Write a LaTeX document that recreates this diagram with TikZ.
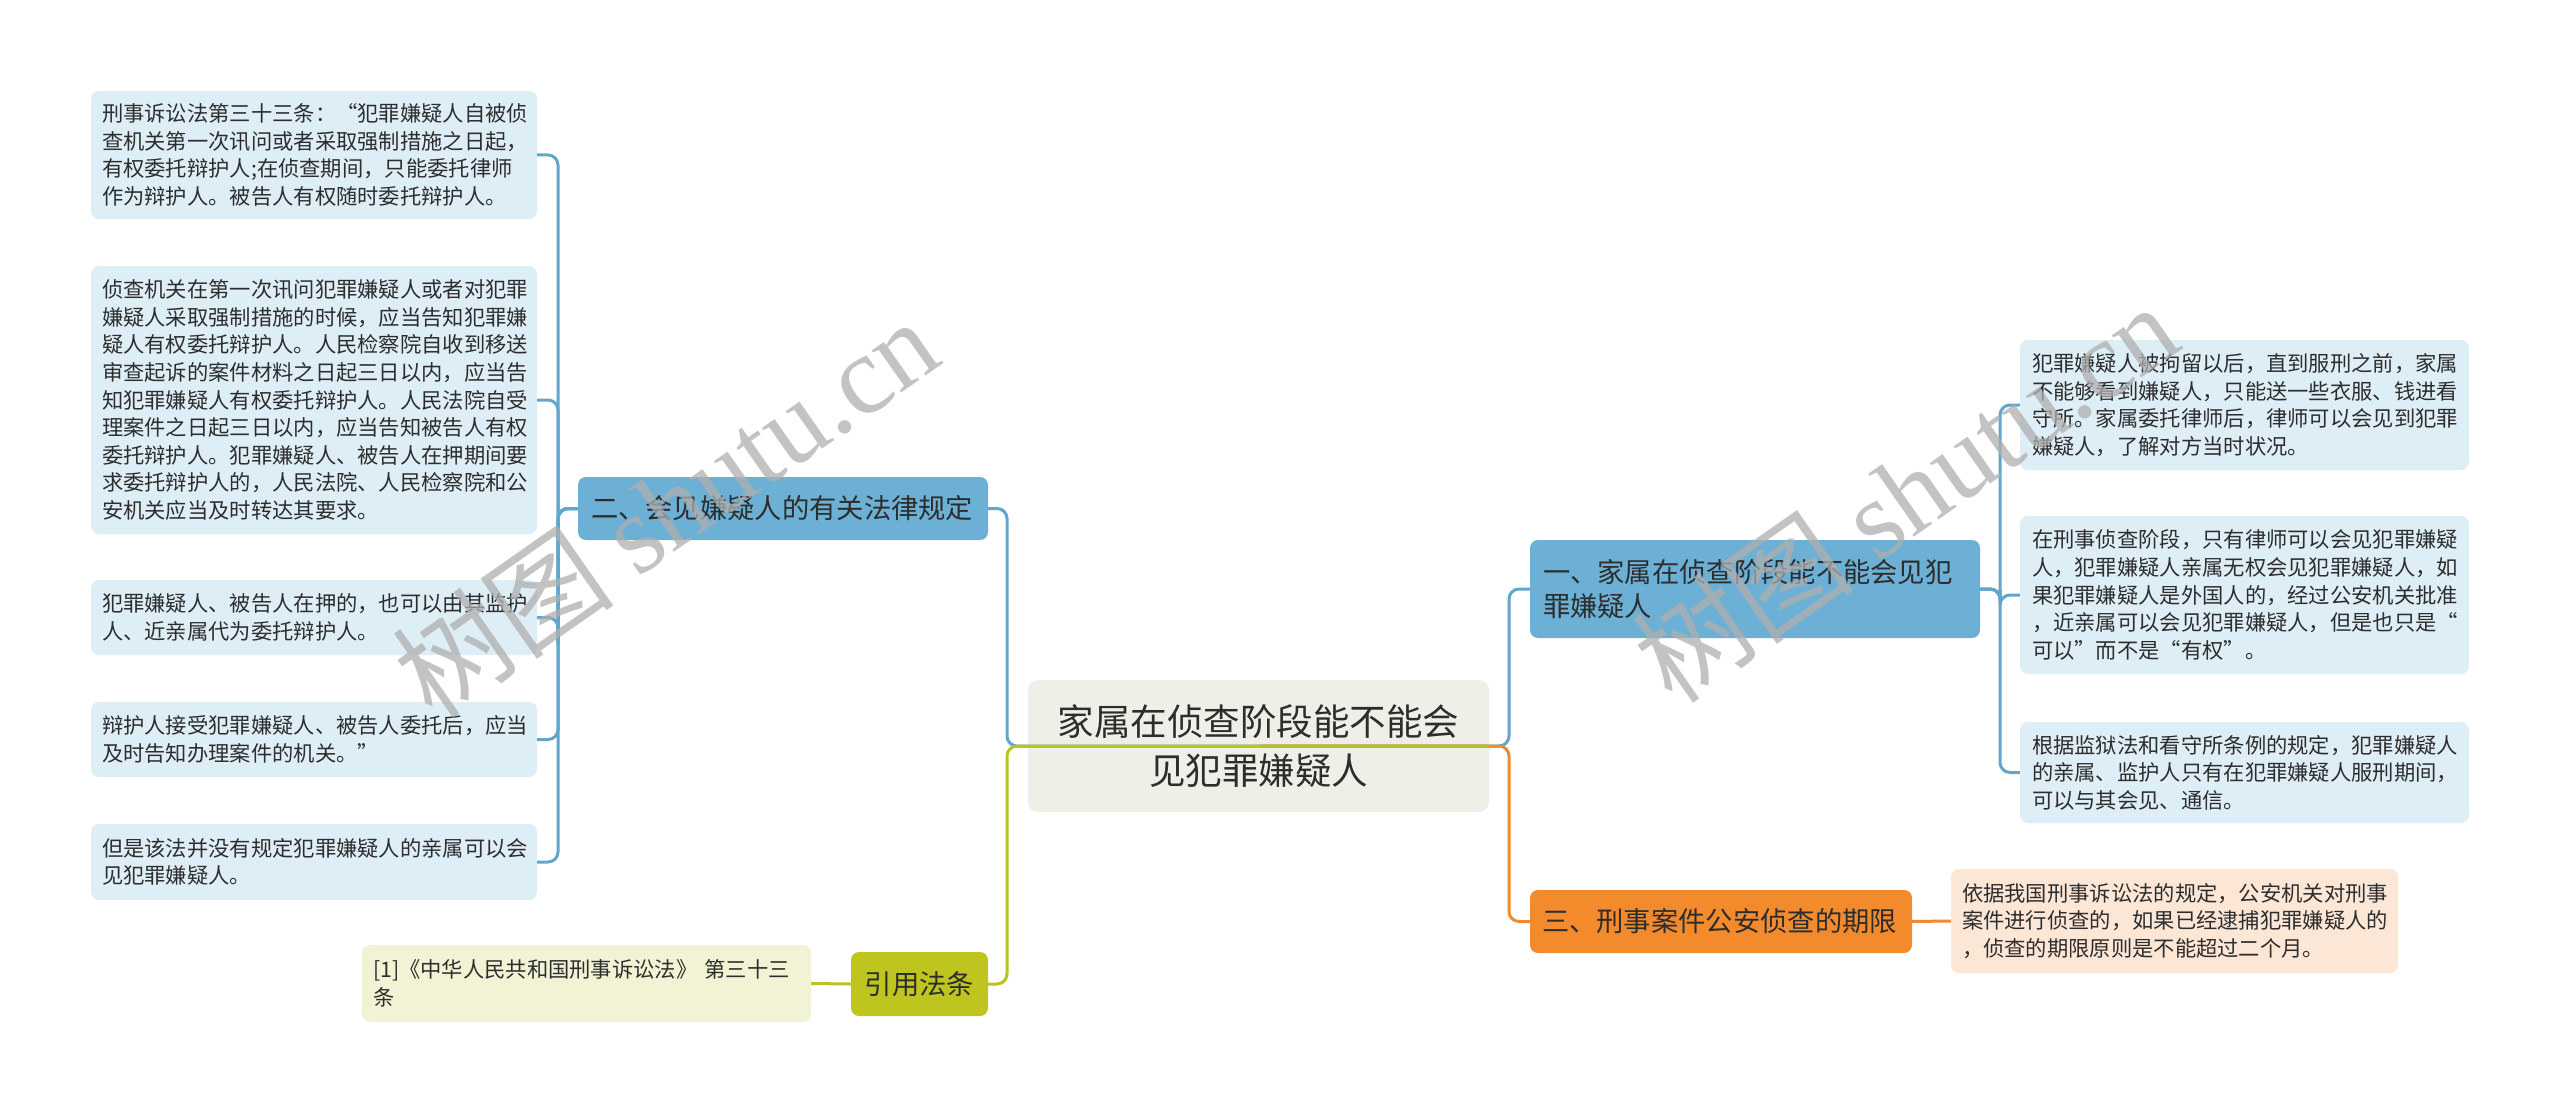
\documentclass[tikz,border=0pt]{standalone}
\usepackage{fontspec}
\setmainfont{Noto Sans CJK SC}
\newfontfamily\wmlatin{Liberation Serif}
\definecolor{txt}{RGB}{45,45,45}
\definecolor{blueline}{RGB}{98,166,204}
\definecolor{bluebranch}{RGB}{108,176,213}
\definecolor{leafblue}{RGB}{222,238,247}
\definecolor{centerfill}{RGB}{239,239,232}
\definecolor{oliveline}{RGB}{186,194,36}
\definecolor{olivebranch}{RGB}{190,197,30}
\definecolor{oliveleaf}{RGB}{241,243,212}
\definecolor{orangeline}{RGB}{240,138,50}
\definecolor{orangebranch}{RGB}{243,139,45}
\definecolor{orangeleaf}{RGB}{252,231,215}
\definecolor{wmgray}{RGB}{175,175,175}
\begin{document}
\begin{tikzpicture}[x=1pt,y=-1pt,
  box/.style={rectangle, rounded corners=8pt, inner xsep=0pt, inner ysep=0pt, align=left, text=txt},
  leaf/.style={box, fill=leafblue, font=\fontsize{21.3}{27.6}\selectfont},
  refleaf/.style={box, fill=oliveleaf, font=\fontsize{21.3}{27.6}\selectfont},
  orleaf/.style={box, fill=orangeleaf, font=\fontsize{21.3}{27.6}\selectfont},
  branch/.style={box, font=\fontsize{27.3}{34}\selectfont},
  conn/.style={line width=3pt, rounded corners=10pt},
  wm/.style={text=wmgray, opacity=0.75, font=\fontsize{112}{112}\selectfont, inner sep=0pt}
]
\fill[white] (0,0) rectangle (2560,1113);
\useasboundingbox (0,0) rectangle (2560,1113);

% center box background
\node[rectangle, rounded corners=10pt, fill=centerfill, minimum width=461, minimum height=132, inner sep=0pt] (cbg) at (1258.5,746) {};

% branch nodes
\node[branch, fill=bluebranch, minimum width=410, minimum height=63, text width=384] (b2) at (783,508.5) {二、会见嫌疑人的有关法律规定};
\node[branch, fill=olivebranch, minimum width=137, minimum height=64, align=center] (bref) at (919.5,984) {引用法条};
\node[branch, fill=bluebranch, minimum width=450, minimum height=98, text width=424] (b1) at (1755,589) {一、家属在侦查阶段能不能会见犯\\罪嫌疑人};
\node[branch, fill=orangebranch, minimum width=382, minimum height=63, text width=358] (b3) at (1721,921.5) {三、刑事案件公安侦查的期限};

% left leaves
\node[leaf, minimum width=446, minimum height=128, text width=424] (l1) at (314,155) {刑事诉讼法第三十三条：“犯罪嫌疑人自被侦\\查机关第一次讯问或者采取强制措施之日起，\\有权委托辩护人;在侦查期间，只能委托律师\\作为辩护人。被告人有权随时委托辩护人。};
\node[leaf, minimum width=446, minimum height=268, text width=424] (l2) at (314,400) {侦查机关在第一次讯问犯罪嫌疑人或者对犯罪\\嫌疑人采取强制措施的时候，应当告知犯罪嫌\\疑人有权委托辩护人。人民检察院自收到移送\\审查起诉的案件材料之日起三日以内，应当告\\知犯罪嫌疑人有权委托辩护人。人民法院自受\\理案件之日起三日以内，应当告知被告人有权\\委托辩护人。犯罪嫌疑人、被告人在押期间要\\求委托辩护人的，人民法院、人民检察院和公\\安机关应当及时转达其要求。};
\node[leaf, minimum width=446, minimum height=75, text width=424] (l3) at (314,617.5) {犯罪嫌疑人、被告人在押的，也可以由其监护\\人、近亲属代为委托辩护人。};
\node[leaf, minimum width=446, minimum height=75, text width=424] (l4) at (314,739.5) {辩护人接受犯罪嫌疑人、被告人委托后，应当\\及时告知办理案件的机关。”};
\node[leaf, minimum width=446, minimum height=76, text width=424] (l5) at (314,862) {但是该法并没有规定犯罪嫌疑人的亲属可以会\\见犯罪嫌疑人。};
\node[refleaf, minimum width=449, minimum height=77, text width=427] (lref) at (586.5,983.5) {[1]《中华人民共和国刑事诉讼法》 第三十三\\条};

% right leaves
\node[leaf, minimum width=449, minimum height=130, text width=425] (r1) at (2244.5,405) {犯罪嫌疑人被拘留以后，直到服刑之前，家属\\不能够看到嫌疑人，只能送一些衣服、钱进看\\守所。家属委托律师后，律师可以会见到犯罪\\嫌疑人，了解对方当时状况。};
\node[leaf, minimum width=449, minimum height=158, text width=425] (r2) at (2244.5,595) {在刑事侦查阶段，只有律师可以会见犯罪嫌疑\\人，犯罪嫌疑人亲属无权会见犯罪嫌疑人，如\\果犯罪嫌疑人是外国人的，经过公安机关批准\\，近亲属可以会见犯罪嫌疑人，但是也只是“\\可以”而不是“有权”。};
\node[leaf, minimum width=449, minimum height=101, text width=425] (r3) at (2244.5,772.5) {根据监狱法和看守所条例的规定，犯罪嫌疑人\\的亲属、监护人只有在犯罪嫌疑人服刑期间，\\可以与其会见、通信。};
\node[orleaf, minimum width=447, minimum height=104, text width=425] (r4) at (2174.5,921) {依据我国刑事诉讼法的规定，公安机关对刑事\\案件进行侦查的，如果已经逮捕犯罪嫌疑人的\\，侦查的期限原则是不能超过二个月。};

% connectors from center
\draw[conn, blueline] (cbg.center) -| (1007,600) |- (b2.east);
\draw[conn, blueline] (cbg.center) -| (1509,700) |- (b1.west);
\draw[conn, orangeline] (cbg.center) -| (1509,800) |- (b3.west);
\draw[conn, oliveline] (cbg.east) -| (1007,900) |- (bref.east);

% left sub connectors
\foreach \n in {l1,l2,l3,l4,l5}
  \draw[conn, blueline] (b2.west) -| (558,650) |- (\n.east);
\draw[conn, oliveline] (bref.west) -- (lref.east);

% right sub connectors
\foreach \n in {r1,r2,r3}
  \draw[conn, blueline] (b1.east) -| (2000,600) |- (\n.west);
\draw[conn, orangeline] (b3.east) -- (r4.west);

% center text
\node[inner sep=0pt, align=center, text=txt, font=\fontsize{36.5}{49}\selectfont] (ctext) at (cbg.center) {家属在侦查阶段能不能会\\见犯罪嫌疑人};

% watermarks
\node[wm, rotate=35] (wm1) at (665,507) {树图 {\wmlatin shutu.cn}};
\node[wm, rotate=35] (wm2) at (1905,492) {树图 {\wmlatin shutu.cn}};
\end{tikzpicture}
\end{document}
